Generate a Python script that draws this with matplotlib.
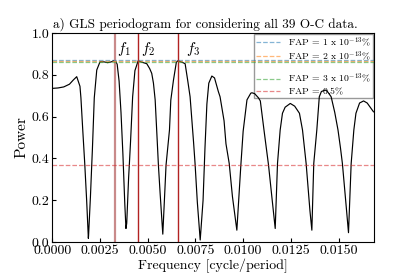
import matplotlib
matplotlib.use("Agg")
import matplotlib.pyplot as plt
from matplotlib.lines import Line2D
import numpy as np

plt.rcParams['font.family'] = 'serif'
plt.rcParams['font.serif'] = ['cmr10', 'DejaVu Serif']
plt.rcParams['mathtext.fontset'] = 'cm'
plt.rcParams['axes.formatter.use_mathtext'] = True
plt.rcParams['axes.unicode_minus'] = False

# GLS periodogram
freq = [0.0000, 0.0003, 0.0006, 0.0009, 0.0011, 0.00128, 0.00145, 0.0015, 0.0016, 0.0017,
        0.0018, 0.00189, 0.0019, 0.0020, 0.00207, 0.0021, 0.0022, 0.00233, 0.0025, 0.0027,
        0.0029, 0.0031, 0.00329, 0.0034, 0.0035, 0.00355, 0.0036, 0.0037, 0.0038, 0.00386,
        0.0039, 0.0040, 0.00404, 0.0041, 0.00421, 0.00433, 0.0045, 0.0047, 0.00495, 0.0051,
        0.00521, 0.0053, 0.00539, 0.0055, 0.00556, 0.00565, 0.00579, 0.0059, 0.00596, 0.00614,
        0.00621, 0.00635, 0.0065, 0.00658, 0.0068, 0.00696, 0.0071, 0.00722, 0.0074, 0.00748,
        0.0076, 0.00775, 0.0079, 0.0080, 0.0081, 0.0082, 0.00836, 0.0085, 0.0087, 0.00879,
        0.0090, 0.0091, 0.00927, 0.00944, 0.00967, 0.0098, 0.00988, 0.0100, 0.0102, 0.0104,
        0.01046, 0.0106, 0.0108, 0.0109, 0.0111, 0.01133, 0.0115, 0.01168, 0.0118, 0.01194,
        0.01206, 0.0122, 0.01247, 0.0127, 0.01295, 0.01311, 0.0133, 0.0135, 0.0136, 0.0137,
        0.01386, 0.01399, 0.0141, 0.0143, 0.0144, 0.01461, 0.0148, 0.01497, 0.0151, 0.0152,
        0.0154, 0.01552, 0.01566, 0.0158, 0.01591, 0.0161, 0.01631, 0.0165, 0.01683]
power = [0.735, 0.737, 0.742, 0.755, 0.775, 0.791, 0.745, 0.69, 0.53, 0.376,
         0.20, 0.018, 0.03, 0.22, 0.376, 0.44, 0.69, 0.823, 0.862, 0.862,
         0.858, 0.862, 0.871, 0.85, 0.77, 0.695, 0.62, 0.42, 0.18, 0.065,
         0.09, 0.31, 0.376, 0.48, 0.695, 0.82, 0.867, 0.86, 0.853, 0.83,
         0.807, 0.76, 0.68, 0.48, 0.368, 0.233, 0.038, 0.25, 0.368, 0.536,
         0.679, 0.775, 0.86, 0.867, 0.86, 0.853, 0.77, 0.695, 0.48, 0.376,
         0.19, 0.01, 0.2, 0.45, 0.66, 0.76, 0.794, 0.785, 0.72, 0.695,
         0.58, 0.47, 0.376, 0.217, 0.057, 0.25, 0.368, 0.53, 0.68, 0.712,
         0.714, 0.71, 0.69, 0.675, 0.53, 0.368, 0.22, 0.065, 0.376, 0.536,
         0.616, 0.645, 0.663, 0.65, 0.616, 0.536, 0.376, 0.15, 0.057, 0.376,
         0.536, 0.695, 0.72, 0.727, 0.722, 0.695, 0.62, 0.536, 0.45, 0.376,
         0.17, 0.045, 0.376, 0.536, 0.616, 0.665, 0.675, 0.665, 0.623]

peak_freqs = [0.00329, 0.00451, 0.00661]
peak_labels = [r'$f_1$', r'$f_2$', r'$f_3$']
peak_colors = ['#c98a8a', '#b22222', '#b22222']

fap_levels = [0.870, 0.868, 0.863, 0.368]
fap_labels = [r'FAP = 1 x $10^{-13}\%$', r'FAP = 2 x $10^{-13}\%$',
              r'FAP = 3 x $10^{-13}\%$', r'FAP = 0.5$\%$']
fap_colors = ['#1f77b4', '#ff7f0e', '#2ca02c', '#d62728']

fig = plt.figure(figsize=(4.15, 2.77), dpi=100)
ax = fig.add_axes([0.126, 0.126, 0.774, 0.755])

ax.plot(freq, power, color='black', lw=0.85)
for f, c, lw in zip(peak_freqs, peak_colors, [1.6, 1.0, 1.0]):
    ax.axvline(f, color=c, lw=lw)
label_offsets = [0.00048, 0.00052, 0.00075]
for f, lab, off in zip(peak_freqs, peak_labels, label_offsets):
    ax.text(f + off, 0.925, lab, ha='center', va='center', fontsize=11)

handles = []
for lev, lab, c in zip(fap_levels, fap_labels, fap_colors):
    h, = ax.plot([0, 1], [lev, lev], transform=ax.get_yaxis_transform(),
                 color=c, ls='--', lw=0.9, alpha=0.55, label=lab)
    handles.append(h)
blank = Line2D([], [], color='none')
leg_handles = handles[:2] + [blank] + handles[2:]
leg_labels = fap_labels[:2] + [' '] + fap_labels[2:]

leg = ax.legend(leg_handles, leg_labels, loc='upper right', fontsize=7, borderaxespad=0.1,
                handlelength=2.5, framealpha=1.0, fancybox=False, edgecolor='#999999',
                labelspacing=0.0, borderpad=0.15)
leg.set_zorder(1)

ax.set_xlim(0, 0.01683)
ax.set_ylim(0, 1.0)
ax.set_xticks([0.0, 0.0025, 0.005, 0.0075, 0.01, 0.0125, 0.015])
ax.set_xticklabels(['0.0000', '0.0025', '0.0050', '0.0075', '0.0100', '0.0125', '0.0150'])
ax.set_yticks([0.0, 0.2, 0.4, 0.6, 0.8, 1.0])
ax.set_yticklabels(['0.0', '0.2', '0.4', '0.6', '0.8', '1.0'])
ax.tick_params(direction='in', labelsize=10, length=3, pad=2)
ax.set_xlabel('Frequency [cycle/period]', fontsize=10, labelpad=1)
ax.set_ylabel('Power', fontsize=11, labelpad=2)
ax.set_title('a) GLS periodogram for considering all 39 O-C data.', fontsize=9.5, pad=4,
             x=0.477)

fig.savefig('out.png', dpi=100)
